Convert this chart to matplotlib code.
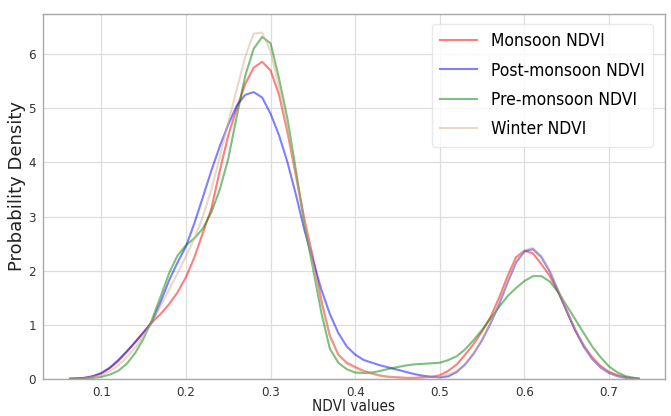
import numpy as np
import matplotlib
matplotlib.use("Agg")
import matplotlib.pyplot as plt

ndvi = [0.063, 0.07, 0.08, 0.09, 0.10, 0.11, 0.12, 0.13, 0.14, 0.15,
        0.16, 0.17, 0.18, 0.19, 0.20, 0.21, 0.22, 0.23, 0.24, 0.25,
        0.26, 0.27, 0.28, 0.29, 0.30, 0.31, 0.32, 0.33, 0.34, 0.35,
        0.36, 0.37, 0.38, 0.39, 0.40, 0.41, 0.42, 0.43, 0.44, 0.45,
        0.46, 0.47, 0.48, 0.49, 0.50, 0.51, 0.52, 0.53, 0.54, 0.55,
        0.56, 0.57, 0.58, 0.59, 0.60, 0.61, 0.62, 0.63, 0.64, 0.65,
        0.66, 0.67, 0.68, 0.69, 0.70, 0.71, 0.72, 0.73, 0.735]

monsoon = [0.005, 0.01, 0.02, 0.05, 0.10, 0.20, 0.33, 0.50, 0.68, 0.87,
           1.05, 1.20, 1.38, 1.60, 1.88, 2.25, 2.70, 3.15, 3.85, 4.50,
           5.00, 5.45, 5.75, 5.86, 5.70, 5.25, 4.55, 3.75, 2.95, 2.25,
           1.45, 0.80, 0.45, 0.30, 0.22, 0.15, 0.10, 0.06, 0.04, 0.03,
           0.02, 0.02, 0.03, 0.04, 0.07, 0.15, 0.27, 0.45, 0.65, 0.88,
           1.15, 1.50, 1.90, 2.25, 2.37, 2.32, 2.12, 1.90, 1.60, 1.25,
           0.90, 0.62, 0.40, 0.24, 0.13, 0.07, 0.03, 0.01, 0.005]

post_monsoon = [0.005, 0.01, 0.02, 0.05, 0.11, 0.21, 0.35, 0.51, 0.68, 0.86,
                1.05, 1.42, 1.82, 2.15, 2.45, 2.88, 3.36, 3.85, 4.30, 4.70,
                5.05, 5.25, 5.30, 5.20, 4.90, 4.50, 4.00, 3.40, 2.75, 2.20,
                1.65, 1.20, 0.85, 0.60, 0.45, 0.35, 0.30, 0.25, 0.21, 0.17,
                0.13, 0.09, 0.06, 0.04, 0.03, 0.05, 0.13, 0.27, 0.47, 0.72,
                1.03, 1.38, 1.78, 2.15, 2.36, 2.40, 2.25, 1.98, 1.62, 1.25,
                0.90, 0.60, 0.37, 0.21, 0.11, 0.05, 0.02, 0.01, 0.005]

pre_monsoon = [0.0, 0.003, 0.01, 0.02, 0.04, 0.08, 0.15, 0.28, 0.48, 0.75,
               1.10, 1.52, 1.95, 2.28, 2.47, 2.60, 2.78, 3.08, 3.50, 4.07,
               4.85, 5.60, 6.10, 6.32, 6.20, 5.55, 4.80, 3.85, 2.85, 2.05,
               1.22, 0.56, 0.30, 0.18, 0.12, 0.11, 0.12, 0.15, 0.19, 0.22,
               0.25, 0.27, 0.28, 0.29, 0.30, 0.35, 0.42, 0.55, 0.72, 0.91,
               1.12, 1.33, 1.53, 1.68, 1.81, 1.90, 1.90, 1.80, 1.60, 1.35,
               1.10, 0.85, 0.60, 0.40, 0.23, 0.12, 0.05, 0.02, 0.005]

winter = [0.0, 0.005, 0.015, 0.035, 0.07, 0.14, 0.25, 0.40, 0.58, 0.80,
          1.05, 1.35, 1.65, 1.95, 2.27, 2.60, 3.00, 3.50, 4.10, 4.75,
          5.35, 5.95, 6.38, 6.40, 6.05, 5.40, 4.60, 3.75, 2.90, 2.15,
          1.40, 0.80, 0.45, 0.28, 0.20, 0.14, 0.10, 0.06, 0.04, 0.03,
          0.02, 0.02, 0.03, 0.04, 0.05, 0.08, 0.15, 0.28, 0.48, 0.73,
          1.04, 1.40, 1.80, 2.17, 2.38, 2.42, 2.27, 2.00, 1.64, 1.27,
          0.92, 0.62, 0.38, 0.22, 0.11, 0.05, 0.02, 0.01, 0.005]

labels = ["Monsoon NDVI", "Post-monsoon NDVI", "Pre-monsoon NDVI", "Winter NDVI"]
colors = ["red", "blue", "green", "tan"]
x_ticks = [0.1, 0.2, 0.3, 0.4, 0.5, 0.6, 0.7]
y_ticks = [0, 1, 2, 3, 4, 5, 6]

plt.rcParams["font.family"] = ["DejaVu Sans"]
plt.rcParams["font.stretch"] = "condensed"

fig = plt.figure(figsize=(6.71, 4.16), dpi=100)
ax = fig.add_axes([0.064, 0.089, 0.927, 0.877])

for series, lab, col in zip([monsoon, post_monsoon, pre_monsoon, winter], labels, colors):
    ax.plot(ndvi, series, color=col, alpha=0.5, linewidth=1.5, label=lab)

ax.set_xlim(0.031, 0.766)
ax.set_ylim(0, 6.74)
ax.set_xticks(x_ticks)
ax.set_xticklabels([f"{t:.1f}" for t in x_ticks])
ax.set_yticks(y_ticks)
ax.grid(True, color="#dddddd", linewidth=0.9)
ax.set_axisbelow(True)
ax.tick_params(length=0, labelsize=9.5, labelcolor="#333333", pad=5)
for s in ax.spines.values():
    s.set_color("#a8a8a8")
    s.set_linewidth(1.0)

ax.set_xlabel("NDVI values", fontsize=11, color="#222222", labelpad=0)
ax.set_ylabel("Probability Density", fontsize=13, color="#222222",
              fontstretch="normal")
ax.yaxis.set_label_coords(-0.027, 0.53)

leg = ax.legend(loc="upper right", handlelength=2.1, labelspacing=0.65, handletextpad=0.8,
                borderpad=0.5, frameon=True, prop={"size": 12.5, "stretch": "condensed"},
                bbox_to_anchor=(0.995, 0.998))
leg.get_frame().set_edgecolor("#e4e4e4")
leg.get_frame().set_alpha(0.8)

fig.savefig("out.png", dpi=100)
